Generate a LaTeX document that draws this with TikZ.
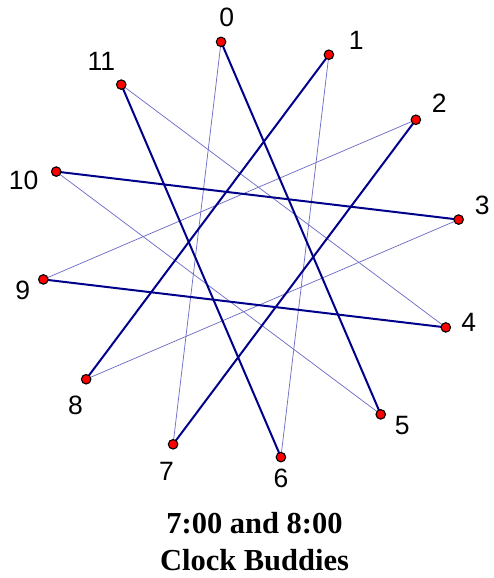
\documentclass[tikz,border=0pt]{standalone}
\usepackage{fontspec}
\setmainfont{Liberation Serif}
\newfontfamily\labfont{Liberation Sans}
\usetikzlibrary{calc}
\definecolor{ink}{HTML}{000000}
\definecolor{navy}{HTML}{00008B}
\definecolor{pale}{HTML}{7070C8}
\definecolor{dotred}{HTML}{FF0000}

\begin{document}
\begin{tikzpicture}[
  x=1pt, y=-1pt, text=ink,
  dot/.style={circle, draw=ink, fill=dotred, line width=1.1pt, inner sep=0pt, minimum size=9.5pt},
  num/.style={font=\labfont\fontsize{26.5}{26.5}\selectfont, inner sep=0pt},
  thick buddy/.style={draw=navy, line width=2pt},
  thin buddy/.style={draw=pale, line width=0.75pt},
  ttl/.style={font=\fontsize{30.5}{30.5}\selectfont\bfseries, inner sep=0pt, anchor=base}
]
\useasboundingbox (0,0) rectangle (493,578);

% ---- clock points
\coordinate (c) at (251,249.5);
\foreach \i in {0,...,11}
  \coordinate (q\i) at ($(c)+({98.2-30*\i}:209.8 and -209.8)$);

% ---- thin pairs
\foreach \a/\b in {0/7,1/6,2/9,3/8,4/11,5/10}
  \draw[thin buddy] (q\a) -- (q\b);
% ---- thick pairs
\foreach \a/\b in {0/5,1/8,2/7,3/10,4/9,6/11}
  \draw[thick buddy] (q\a) -- (q\b);

% ---- dots and numbers
\foreach \i/\dx/\dy in {0/5.7/-24,1/27.4/-14,2/23.3/-17,3/23.7/-14.3,4/23/-4.6,5/21.6/11,
    6/0/21.7,7/-6.7/26.7,8/-10.7/25.7,9/-20.6/10.7,10/-32.7/8.7,11/-20/-23.3} {
  \node[dot] (p\i) at (q\i) {};
  \node[num] (l\i) at ($(q\i)+(\dx,\dy)$) {\i};
}

% ---- caption
\node[ttl] (title) at (254.5,533) {7:00 and 8:00};
\node[ttl] (sub) at (254.5,570) {Clock Buddies};
\end{tikzpicture}
\end{document}
